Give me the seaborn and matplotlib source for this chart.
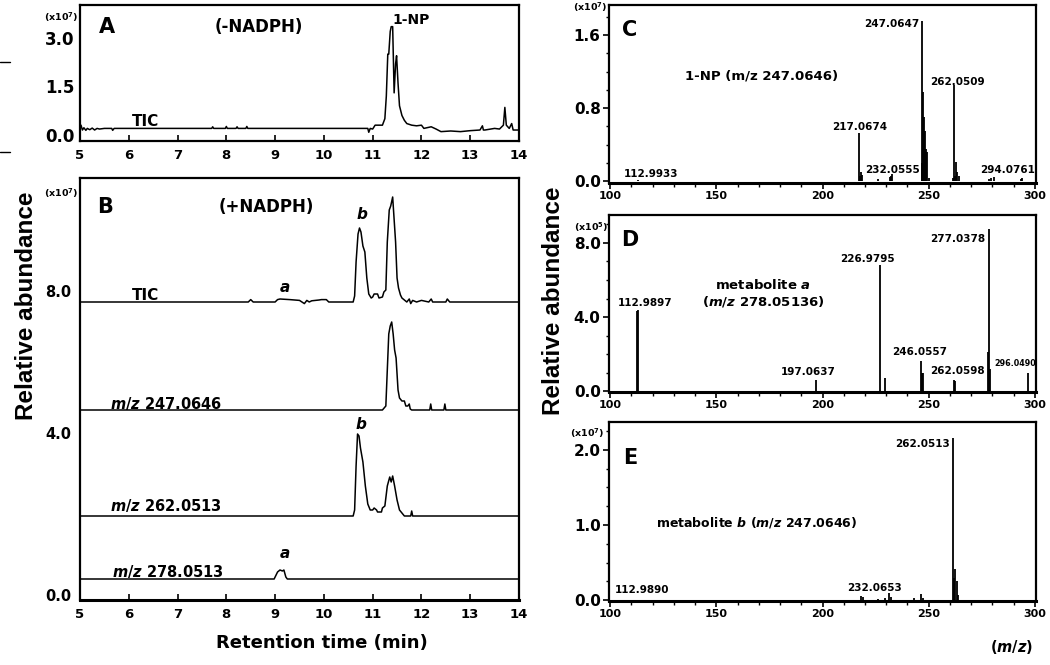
import matplotlib
matplotlib.use("Agg")
import matplotlib.pyplot as plt
from matplotlib.ticker import MultipleLocator
import seaborn as sns

# ---- chromatogram A (-NADPH), TIC, x10^7 ----
a_time = [5.0, 5.02, 5.05, 5.08, 5.12, 5.15, 5.2, 5.25, 5.3, 5.35, 5.4, 5.5, 5.65, 5.67, 5.7,
          7.7, 7.72, 7.74, 7.98, 8.0, 8.02, 8.2, 8.22, 8.24, 8.4, 8.42, 8.44,
          10.9, 10.92, 10.95, 11.0, 11.05, 11.2, 11.25, 11.28, 11.31, 11.33, 11.36, 11.38,
          11.41, 11.44, 11.47, 11.49, 11.52, 11.55, 11.6, 11.65, 11.7, 11.8, 11.9, 12.0,
          12.05, 12.2, 12.3, 12.4, 12.6, 12.8, 13.0, 13.2, 13.25, 13.27, 13.3, 13.5, 13.6,
          13.68, 13.71, 13.74, 13.8, 13.85, 13.88, 14.0]
a_tic = [0.18, 0.3, 0.15, 0.22, 0.14, 0.2, 0.16, 0.21, 0.15, 0.2, 0.18, 0.2, 0.2, 0.14, 0.2,
         0.2, 0.25, 0.2, 0.2, 0.26, 0.2, 0.2, 0.25, 0.2, 0.2, 0.26, 0.2,
         0.2, 0.08, 0.2, 0.18, 0.3, 0.3, 0.5, 1.2, 2.5, 2.5, 3.2, 3.35,
         3.35, 1.3, 2.2, 2.45, 1.6, 0.9, 0.6, 0.45, 0.35, 0.3, 0.28, 0.3,
         0.2, 0.25, 0.18, 0.1, 0.12, 0.1, 0.13, 0.15, 0.28, 0.15, 0.15, 0.2, 0.18,
         0.3, 0.85, 0.3, 0.2, 0.35, 0.15, 0.15]

# ---- chromatograms B (+NADPH), heights above each trace's own baseline ----
b_tic_time = [5.0, 8.45, 8.5, 8.55, 9.0, 9.05, 9.1, 9.3, 9.5, 9.55, 9.6, 9.65, 9.7, 9.75, 9.9,
              9.95, 10.05, 10.1, 10.6, 10.63, 10.66, 10.7, 10.73, 10.76, 10.8, 10.84, 10.88,
              10.92, 10.97, 11.0, 11.03, 11.1, 11.13, 11.2, 11.23, 11.27, 11.3, 11.34, 11.37,
              11.41, 11.43, 11.47, 11.5, 11.53, 11.57, 11.6, 11.65, 11.7, 11.75, 11.78, 11.82,
              11.9, 12.0, 12.15, 12.2, 12.23, 12.5, 12.53, 12.58, 14.0]
b_tic = [0, 0, 0.12, 0, 0, 0.12, 0.15, 0.12, 0.08, 0, -0.08, 0.08, 0, 0.06, 0.1,
         0.12, 0.12, 0, 0, 0.3, 2.0, 3.4, 3.7, 3.5, 2.8, 2.5, 1.2,
         0.4, 0.2, 0.25, 0.4, 0.4, 0.2, 0.25, 0.5, 0.6, 3.0, 4.6, 4.8,
         5.25, 4.5, 3.0, 1.2, 0.7, 0.35, 0.2, 0.1, 0, 0.15, -0.08, 0.08,
         0, 0.08, 0, 0.15, 0, 0, 0.15, 0, 0]

b_247_time = [5.0, 11.2, 11.27, 11.3, 11.33, 11.36, 11.39, 11.42, 11.45, 11.48, 11.52, 11.55,
              11.6, 11.65, 11.68, 11.72, 11.75, 11.77, 11.8, 12.17, 12.19, 12.21, 12.46,
              12.48, 12.5, 14.0]
b_247 = [0, 0, 0.2, 2.0, 3.8, 4.2, 4.4, 3.8, 3.0, 2.6, 1.0, 0.6,
         0.45, 0.45, 0.2, 0.2, 0.3, 0.05, 0, 0, 0.3, 0, 0,
         0.3, 0, 0]

b_262_time = [5.0, 10.6, 10.63, 10.66, 10.69, 10.72, 10.75, 10.8, 10.85, 10.9, 10.95, 11.0,
              11.03, 11.08, 11.1, 11.18, 11.2, 11.25, 11.3, 11.35, 11.38, 11.41, 11.45, 11.5,
              11.55, 11.6, 11.65, 11.78, 11.8, 11.82, 14.0]
b_262 = [0, 0, 0.3, 2.5, 4.1, 4.0, 3.4, 2.7, 1.5, 0.6, 0.3, 0.3,
         0.4, 0.3, 0.2, 0.2, 0.4, 0.5, 1.5, 1.95, 1.7, 2.0, 1.5, 0.8,
         0.3, 0.15, 0, 0, 0.25, 0, 0]

b_278_time = [5.0, 8.98, 9.0, 9.05, 9.1, 9.15, 9.18, 9.22, 9.25, 14.0]
b_278 = [0, 0, 0.1, 0.35, 0.45, 0.4, 0.45, 0.1, 0, 0]

b_labels = ["TIC", "$\\it{m/z}$ 247.0646", "$\\it{m/z}$ 262.0513", "$\\it{m/z}$ 278.0513"]

# ---- mass spectra ----
c_mz = [112.99, 217.07, 217.6, 218.07, 218.6, 226.0, 231.6, 232.06, 232.6, 246.8, 247.06,
        247.4, 247.7, 248.07, 248.5, 249.07, 250.0, 261.5, 261.9, 262.6, 263.05, 263.5,
        264.05, 278.5, 279.5, 280.5, 293.5, 294.08]
c_int = [0.015, 0.53, 0.05, 0.10, 0.07, 0.02, 0.04, 0.06, 0.08, 0.2, 1.75,
         0.98, 0.7, 0.55, 0.35, 0.32, 0.03, 0.03, 1.05, 0.06, 0.21, 0.1,
         0.05, 0.02, 0.03, 0.04, 0.02, 0.03]

d_mz = [112.5, 112.99, 197.06, 226.98, 229.5, 246.4, 246.9, 247.3, 262.0, 262.4, 278.1,
        278.6, 279.0, 296.6]
d_int = [4.3, 4.4, 0.6, 6.8, 0.7, 1.6, 1.0, 1.0, 0.6, 0.55, 2.1,
         8.75, 1.2, 0.95]

e_mz = [112.99, 218.0, 219.0, 226.0, 229.5, 231.3, 232.3, 243.0, 246.5, 247.5, 261.5,
        262.0, 262.6, 263.1, 264.0]
e_int = [0.005, 0.06, 0.04, 0.02, 0.03, 0.1, 0.04, 0.03, 0.08, 0.03, 2.16,
         0.3, 0.42, 0.25, 0.07]

sns.set_style("ticks")
plt.rcParams["font.family"] = ["DejaVu Sans"]
plt.rcParams["font.weight"] = "bold"
plt.rcParams["text.color"] = "black"
plt.rcParams["xtick.color"] = "black"
plt.rcParams["ytick.color"] = "black"
plt.rcParams["axes.edgecolor"] = "black"
plt.rcParams["mathtext.fontset"] = "custom"
plt.rcParams["mathtext.rm"] = "DejaVu Sans:bold"
plt.rcParams["mathtext.it"] = "DejaVu Sans:italic:bold"
plt.rcParams["mathtext.bf"] = "DejaVu Sans:bold"

W, H = 1050, 665
fig = plt.figure(figsize=(W / 100, H / 100), dpi=100)


def px_axes(l, t, r, b):
    ax = fig.add_axes([l / W, 1 - b / H, (r - l) / W, (b - t) / H])
    for s in ax.spines.values():
        s.set_linewidth(1.6)
        s.set_color("black")
    ax.tick_params(width=1.2, colors="black")
    return ax


def bold_ticks(ax):
    for lab in ax.get_xticklabels() + ax.get_yticklabels():
        lab.set_fontweight("bold")


def ptxt(x, y, s, size=10, **kw):
    # text placed by its centre, in picture pixels from the top-left corner
    kw.setdefault("ha", "center")
    kw.setdefault("va", "center")
    fig.text(x / W, 1 - y / H, s, fontsize=size, fontweight="bold", color="black", **kw)


# ---------- panel A ----------
axA = px_axes(80, 5, 519, 141)
sns.lineplot(x=a_time, y=a_tic, sort=False, estimator=None, color="black", lw=1.1, ax=axA)
axA.set_xlim(5, 14)
axA.set_ylim(-0.19, 4.02)
axA.set_xticks(range(5, 15))
axA.set_yticks([0, 1.5, 3.0])
axA.set_yticklabels(["0.0", "1.5", "3.0"])
axA.tick_params(axis="x", direction="in", length=4, pad=6, labelsize=9.5)
axA.tick_params(axis="y", length=0, pad=4, labelsize=12)
bold_ticks(axA)
ptxt(107, 27, "A", 15)
ptxt(259, 27, "(-NADPH)", 12)
ptxt(411, 20, "1-NP", 10)
ptxt(146, 121, "TIC", 11)
ptxt(61, 17, "(x10$^7$)", 6.8)

# ---------- panel B ----------
axB = px_axes(80, 178, 519, 600)
b_series = [(b_tic_time, b_tic, 14.9), (b_247_time, b_247, 9.5),
            (b_262_time, b_262, 4.2), (b_278_time, b_278, 1.05)]
for (t, v, off) in b_series:
    sns.lineplot(x=t, y=[y + off for y in v], sort=False, estimator=None,
                 color="black", lw=1.1, ax=axB)
axB.set_xlim(5, 14)
axB.set_ylim(0, 21.1)
axB.set_xticks(range(5, 15))
axB.set_yticks([0.25, 8.35, 15.45])
axB.set_yticklabels(["0.0", "4.0", "8.0"])
axB.tick_params(axis="x", direction="in", length=4, pad=6, labelsize=9.5)
axB.tick_params(axis="y", length=0, pad=6, labelsize=10.5)
axB.spines["bottom"].set_linewidth(2.2)
bold_ticks(axB)
ptxt(105, 207, "B", 15)
ptxt(266, 207, "(+NADPH)", 12)
ptxt(146, 296, b_labels[0], 11)
ptxt(166, 403, b_labels[1], 10.5)
ptxt(166, 506, b_labels[2], 10.5)
ptxt(168, 571, b_labels[3], 10.5)
ptxt(285, 288, "$\\it{a}$", 11)
ptxt(285, 553, "$\\it{a}$", 11)
ptxt(362, 214, "$\\it{b}$", 11)
ptxt(361, 424, "$\\it{b}$", 11)
ptxt(61, 193, "(x10$^7$)", 6.8)
ptxt(322, 643, "Retention time (min)", 13)
ptxt(27, 306, "Relative abundance", 17.5, rotation=90, family="Liberation Sans")

# ---------- spectra C, D, E ----------
spec = [
    ("C", c_mz, c_int, 5, 183, (-0.022, 1.93), [0, 0.8, 1.6], ["0.0", "0.8", "1.6"], 0.2),
    ("D", d_mz, d_int, 215, 392, (-0.05, 9.51), [0, 4, 8], ["0.0", "4.0", "8.0"], 1.0),
    ("E", e_mz, e_int, 422, 601, (-0.01, 2.37), [0, 1, 2], ["0.0", "1.0", "2.0"], 0.25),
]
for (name, mz, inten, top, bot, ylim, yt, ytl, minor) in spec:
    ax = px_axes(609, top, 1036, bot)
    ax.vlines(mz, 0, inten, color="black", lw=1.3)
    ax.set_xlim(99.5, 300.5)
    ax.set_ylim(*ylim)
    ax.set_xticks([100, 150, 200, 250, 300])
    ax.xaxis.set_minor_locator(MultipleLocator(10))
    ax.set_yticks(yt)
    ax.set_yticklabels(ytl)
    ax.yaxis.set_minor_locator(MultipleLocator(minor))
    ax.tick_params(axis="x", which="major", direction="out", length=4, pad=2, labelsize=8)
    ax.tick_params(axis="x", which="minor", direction="out", length=3, width=1)
    ax.tick_params(axis="y", which="major", direction="out", length=4, pad=2, labelsize=11)
    ax.tick_params(axis="y", which="minor", direction="out", length=2.5, width=1)
    ax.spines["bottom"].set_linewidth(2.2)
    bold_ticks(ax)

# panel C
ptxt(630, 30, "C", 15)
ptxt(590, 7, "(x10$^7$)", 6.8)
ptxt(762, 76, "1-NP (m/z 247.0646)", 9.5)
ptxt(892, 24, "247.0647", 7.5)
ptxt(957, 82, "262.0509", 7.5)
ptxt(860, 127, "217.0674", 7.5)
ptxt(893, 170, "232.0555", 7.5)
ptxt(1008, 170, "294.0761", 7.5)
ptxt(651, 174, "112.9933", 7.5)

# panel D
ptxt(630, 240, "D", 15)
ptxt(591, 227, "(x10$^5$)", 6.8)
ptxt(763, 285, "metabolite $\\it{a}$", 9.5)
ptxt(763, 301, "($\\it{m/z}$ 278.05136)", 9.5)
ptxt(958, 239, "277.0378", 7.5)
ptxt(867, 259, "226.9795", 7.5)
ptxt(645, 303, "112.9897", 7.5)
ptxt(920, 352, "246.0557", 7.5)
ptxt(957, 371, "262.0598", 7.5)
ptxt(1015, 364, "296.0490", 5.8)
ptxt(808, 372, "197.0637", 7.5)

# panel E
ptxt(630, 458, "E", 15)
ptxt(587, 433, "(x10$^7$)", 6.8)
ptxt(757, 522, "metabolite $\\it{b}$ ($\\it{m/z}$ 247.0646)", 9)
ptxt(923, 444, "262.0513", 7.5)
ptxt(642, 590, "112.9890", 7.5)
ptxt(875, 588, "232.0653", 7.5)
ptxt(1012, 647, "($\\it{m/z}$)", 10.5)
ptxt(554, 301, "Relative abundance", 17.5, rotation=90, family="Liberation Sans")

# small stray marks at the left edge
for yy in (62, 152):
    fig.add_artist(plt.Line2D([0 / W, 10 / W], [1 - yy / H, 1 - yy / H], color="black", lw=1))

fig.savefig("out.png", dpi=100)
